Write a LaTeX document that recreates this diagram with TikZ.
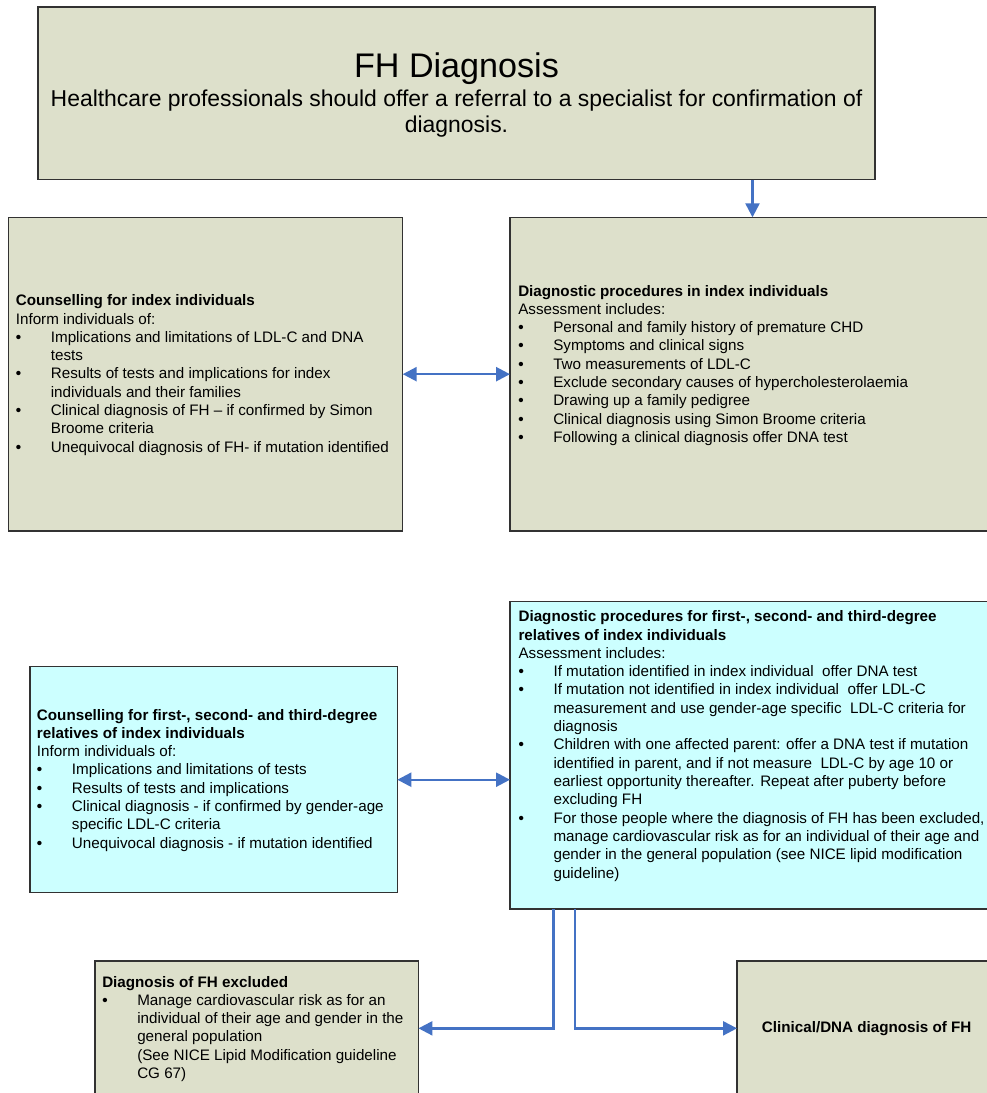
\documentclass[tikz,border=0pt]{standalone}
\usepackage{fontspec}
\setmainfont{Liberation Sans}
\usetikzlibrary{arrows.meta}
\definecolor{boxgreen}{RGB}{221,224,203}
\definecolor{boxcyan}{RGB}{204,255,255}
\definecolor{arrblue}{RGB}{68,114,196}
\definecolor{edgegray}{RGB}{50,50,50}
\newcommand\bi[1]{\makebox[26.25pt][l]{\textbf{\textbullet}}#1}
\newcommand\bc[1]{\hspace*{26.25pt}#1}
\newcommand\blk[1]{\parbox[t]{420pt}{\raggedright #1}}
\begin{document}
\begin{tikzpicture}[x=0.75pt,y=-0.75pt,
  panel/.style={draw=edgegray, line width=0.9pt, anchor=north west, inner sep=0pt, outer sep=0pt},
  txt/.style={anchor=base west, inner sep=0pt, font=\fontsize{11.4}{13.73}\selectfont},
  arr/.style={draw=arrblue, line width=1.8pt, -{Triangle[length=10.5pt,width=10.5pt]}},
  darr/.style={draw=arrblue, line width=1.8pt, {Triangle[length=10.5pt,width=10.5pt]}-{Triangle[length=10.5pt,width=10.5pt]}}]
\clip (0,0) rectangle (987,1093);
\fill[white] (0,0) rectangle (987,1093);

% boxes
\node[panel, fill=boxgreen, minimum width=627.75pt, minimum height=129.4pt] (top) at (38,7) {};
\node[panel, fill=boxgreen, minimum width=295.8pt, minimum height=235.3pt] (ci) at (8.3,217.3) {};
\node[panel, fill=boxgreen, minimum width=363.75pt, minimum height=235.3pt] (di) at (510,217.3) {};
\node[panel, fill=boxcyan, minimum width=275.5pt, minimum height=169.5pt] (cr) at (30,666.7) {};
\node[panel, fill=boxcyan, minimum width=363.75pt, minimum height=230.5pt] (dr) at (510,601.7) {};
\node[panel, fill=boxgreen, minimum width=242.6pt, minimum height=101pt] (ex) at (95,961) {};
\node[panel, fill=boxgreen, minimum width=193.5pt, minimum height=101pt] (cl) at (737,961) {};

% texts
\node[anchor=base, inner sep=0pt, font=\fontsize{25.6}{29}\selectfont] (title) at (456.5,77) {FH Diagnosis};
\node[anchor=base, inner sep=0pt, font=\fontsize{17.2}{19.5}\selectfont] (sub) at (456.5,106)
  {\parbox[t]{700pt}{\centering Healthcare professionals should offer a referral to a specialist for confirmation of\\ diagnosis.}};

\node[txt] (t1) at (15.6,305.7) {\blk{%
\textbf{Counselling for index individuals}\\
Inform individuals of:\\
\bi{Implications and limitations of LDL-C and DNA}\\
\bc{tests}\\
\bi{Results of tests and implications for index}\\
\bc{individuals and their families}\\
\bi{Clinical diagnosis of FH – if confirmed by Simon}\\
\bc{Broome criteria}\\
\bi{Unequivocal diagnosis of FH- if mutation identified}}};

\node[txt] (t2) at (518,296) {\blk{%
\textbf{Diagnostic procedures in index individuals}\\
Assessment includes:\\
\bi{Personal and family history of premature CHD}\\
\bi{Symptoms and clinical signs}\\
\bi{Two measurements of LDL-C}\\
\bi{Exclude secondary causes of hypercholesterolaemia}\\
\bi{Drawing up a family pedigree}\\
\bi{Clinical diagnosis using Simon Broome criteria}\\
\bi{Following a clinical diagnosis offer DNA test}}};

\node[txt] (t3) at (36.7,720) {\blk{%
\textbf{Counselling for first-, second- and third-degree}\\
\textbf{relatives of index individuals}\\
Inform individuals of:\\
\bi{Implications and limitations of tests}\\
\bi{Results of tests and implications}\\
\bi{Clinical diagnosis - if confirmed by gender-age}\\
\bc{specific LDL-C criteria}\\
\bi{Unequivocal diagnosis - if mutation identified}}};

\node[txt] (t4) at (518.3,621.7) {\blk{%
\textbf{Diagnostic procedures for first-, second- and third-degree}\\
\textbf{relatives of index individuals}\\
Assessment includes:\\
\bi{If mutation identified in index individual\ \ offer DNA test}\\
\bi{If mutation not identified in index individual\ \ offer LDL-C}\\
\bc{measurement and use gender-age specific\ \ LDL-C criteria for}\\
\bc{diagnosis}\\
\bi{Children with one affected parent: offer a DNA test if mutation}\\
\bc{identified in parent, and if not measure\ \ LDL-C by age 10 or}\\
\bc{earliest opportunity thereafter. Repeat after puberty before}\\
\bc{excluding FH}\\
\bi{For those people where the diagnosis of FH has been excluded,}\\
\bc{manage cardiovascular risk as for an individual of their age and}\\
\bc{gender in the general population (see NICE lipid modification}\\
\bc{guideline)}}};

\node[txt] (t5) at (102,987) {\blk{%
\textbf{Diagnosis of FH excluded}\\
\bi{Manage cardiovascular risk as for an}\\
\bc{individual of their age and gender in the}\\
\bc{general population}\\
\bc{(See NICE Lipid Modification guideline}\\
\bc{CG 67)}}};

\node[txt] (t6) at (761.7,1032.7) {\textbf{Clinical/DNA diagnosis of FH}};

% connectors
\draw[arr] (di.north |- top.south) -- (di.north);
\draw[darr] (ci.east) -- (di.west);
\draw[darr] (cr.east) -- (cr.east -| dr.west);
\draw[arr] ([xshift=32.5pt]dr.south west) |- (ex.east);
\draw[arr] ([xshift=48.75pt]dr.south west) |- (cl.west);
\end{tikzpicture}
\end{document}
